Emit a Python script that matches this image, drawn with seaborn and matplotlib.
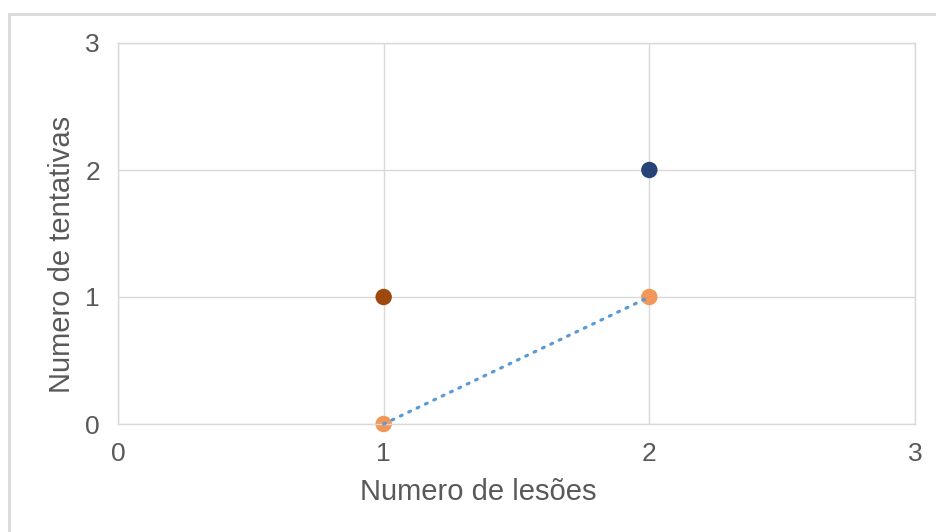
import numpy as np
import pandas as pd
import matplotlib
matplotlib.use("Agg")
import matplotlib.pyplot as plt
from matplotlib.patches import Rectangle
import seaborn as sns

# Data: number of lesions vs number of attempts, grouped by series
series = ["A", "B", "C", "C"]
lesoes = [1, 2, 1, 2]
tentativas = [1, 2, 0, 1]
cores = {"A": "#9E480E", "B": "#264478", "C": "#F1975A"}
ticks = [0, 1, 2, 3]

df = pd.DataFrame({"serie": series, "lesoes": lesoes, "tentativas": tentativas})

sns.set_theme(style="white")
plt.rcParams["font.family"] = ["Liberation Sans", "DejaVu Sans"]

fig = plt.figure(figsize=(9.36, 5.32), dpi=100)
ax = fig.add_axes([118 / 936, 1 - 424 / 532, 797 / 936, 381 / 532])

# Outer chart frame
fig.patches.append(Rectangle((9 / 936, -0.05), 1.1, (532 - 14) / 532 + 0.05,
                             transform=fig.transFigure, fill=False,
                             edgecolor="#d9d9d9", linewidth=2, zorder=0))

sns.scatterplot(data=df, x="lesoes", y="tentativas", hue="serie",
                palette=cores, s=140, edgecolor="none", legend=False,
                ax=ax, zorder=2)
for coll in ax.collections:
    coll.set_clip_on(False)

# Linear trendline for series C
trend = df[df.serie == "C"]
k, b = np.polyfit(trend.lesoes, trend.tentativas, 1)
xs = np.array([trend.lesoes.min(), trend.lesoes.max()])
ax.plot(xs, k * xs + b, color="#5B9BD5", linewidth=2.3,
        linestyle=(0, (0.6, 2.3)), dash_capstyle="round", zorder=3,
        clip_on=False)

ax.set_xlim(0, 3)
ax.set_ylim(0, 3)
ax.set_xticks(ticks)
ax.set_yticks(ticks)
ax.set_xticklabels([str(t) for t in ticks])
ax.set_yticklabels([str(t) for t in ticks])
ax.grid(True, color="#d9d9d9", linewidth=1)
ax.set_axisbelow(True)
for sp in ax.spines.values():
    sp.set_color("#d9d9d9")
    sp.set_linewidth(1)

ax.tick_params(axis="both", length=0, labelsize=19, labelcolor="#595959")
ax.tick_params(axis="x", pad=13)
ax.tick_params(axis="y", pad=13)

ax.set_xlabel("Numero de lesões", fontsize=21, color="#595959")
ax.set_ylabel("Numero de tentativas", fontsize=21, color="#595959")
ax.xaxis.set_label_coords((478 - 118) / 797, -(492 - 424) / 381)
ax.yaxis.set_label_coords(-(118 - 62) / 797, (424 - 254) / 381)
ax.xaxis.label.set_va("center")
ax.yaxis.label.set_va("center")

fig.savefig("out.png", dpi=100)
